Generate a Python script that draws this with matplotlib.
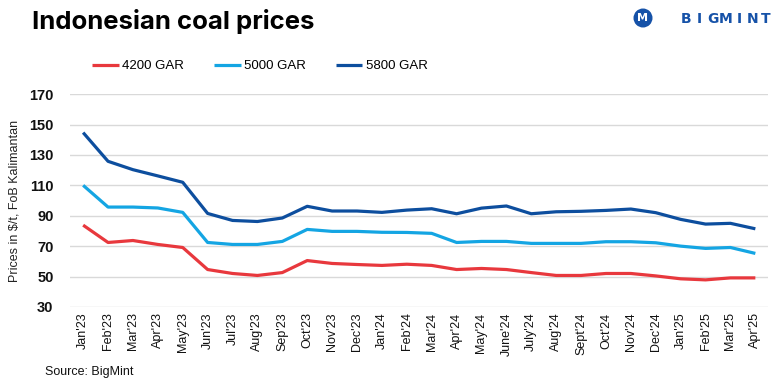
import matplotlib.pyplot as plt
from matplotlib.patches import Ellipse

months = ["Jan'23", "Feb'23", "Mar'23", "Apr'23", "May'23", "Jun'23", "Jul'23",
          "Aug'23", "Sep'23", "Oct'23", "Nov'23", "Dec'23", "Jan'24", "Feb'24",
          "Mar'24", "Apr'24", "May'24", "June'24", "July'24", "Aug'24", "Sept'24",
          "Oct'24", "Nov'24", "Dec'24", "Jan'25", "Feb'25", "Mar'25", "Apr'25"]

gar_4200 = [83.8, 72.4, 73.7, 71.1, 69.1, 54.6, 52.0, 50.7, 52.6, 60.5, 58.6, 57.9,
            57.3, 58.1, 57.3, 54.6, 55.3, 54.6, 52.6, 50.7, 50.7, 52.0, 52.0, 50.4,
            48.5, 47.8, 49.1, 49.1]
gar_5000 = [110.0, 95.7, 95.7, 95.1, 92.2, 72.4, 71.1, 71.1, 73.1, 81.0, 79.7, 79.7,
            79.1, 79.0, 78.4, 72.4, 73.1, 73.1, 71.8, 71.8, 71.8, 72.9, 72.9, 72.2,
            70.0, 68.5, 69.1, 65.2]
gar_5800 = [144.7, 125.8, 120.3, 116.2, 112.0, 91.5, 86.9, 86.2, 88.5, 96.2, 93.1, 93.1,
            92.2, 93.7, 94.6, 91.3, 95.0, 96.4, 91.3, 92.6, 92.9, 93.5, 94.4, 92.0,
            87.6, 84.5, 85.0, 81.4]

yticks = [30, 50, 70, 90, 110, 130, 150, 170]

c_red = '#e8383d'
c_cyan = '#14a5e3'
c_navy = '#0d4e9e'

plt.rcParams['font.family'] = ['Liberation Sans', 'DejaVu Sans']

fig = plt.figure(figsize=(7.8, 3.89), dpi=100)
ax = fig.add_axes([0.09, 0.211, 0.895, 0.547])

x = list(range(len(months)))
ax.plot(x, gar_4200, color=c_red, lw=2.3, label='4200 GAR', solid_capstyle='butt')
ax.plot(x, gar_5000, color=c_cyan, lw=2.3, label='5000 GAR', solid_capstyle='butt')
ax.plot(x, gar_5800, color=c_navy, lw=2.3, label='5800 GAR', solid_capstyle='butt')

ax.set_xlim(-0.52, len(months) - 0.48)
ax.set_ylim(30, 170)
ax.set_yticks(yticks)
ax.set_yticklabels([str(v) for v in yticks], fontsize=10.5, fontweight='bold', color='#111111')
ax.set_xticks(x)
ax.set_xticklabels(months, rotation=90, fontsize=9, color='#111111')
ax.tick_params(axis='both', length=0)
ax.tick_params(axis='y', pad=12)
ax.tick_params(axis='x', pad=4)
ax.grid(axis='y', color='#d9d9d9', lw=1)
ax.set_axisbelow(True)
for s in ax.spines.values():
    s.set_visible(False)

ax.set_ylabel('Prices in $/t, FoB Kalimantan', fontsize=9, color='#222222', labelpad=6)

leg = fig.legend(loc='center left', bbox_to_anchor=(0.103, 0.83), ncol=3, frameon=False,
                 fontsize=9.5, handlelength=2.0, handletextpad=0.25, columnspacing=2.3)

fig.text(0.041, 0.945, 'Indonesian coal prices', fontsize=18.5, fontweight='bold',
         color='#000000', va='center', ha='left', family=['Inter', 'DejaVu Sans'])
fig.text(0.058, 0.043, 'Source: BigMint', fontsize=9, color='#111111', va='center')

# logo
logo = Ellipse((643 / 780, 1 - 18 / 389), 19 / 780, 19 / 389, transform=fig.transFigure,
               facecolor='#1652a8', edgecolor='none')
fig.patches.append(logo)
fig.text(643 / 780, 1 - 18 / 389, 'M', fontsize=8, fontweight='bold', color='white',
         ha='center', va='center', family=['DejaVu Sans'])
for i, ch in enumerate('BIGMINT'):
    fig.text((686 + i * 13.3) / 780, 1 - 19 / 389, ch, fontsize=10, fontweight='bold',
             color='#1652a8', va='center', ha='center', family=['DejaVu Sans'])

fig.savefig('out.png', dpi=100)
